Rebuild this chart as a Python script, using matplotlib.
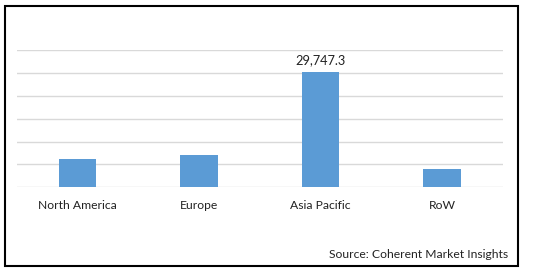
import matplotlib
matplotlib.use('Agg')
import matplotlib.pyplot as plt
from matplotlib.patches import Rectangle
import numpy as np

# market size by region (only Asia Pacific is labelled)
regions = ['North America', 'Europe', 'Asia Pacific', 'RoW']
values = [7300, 8300, 29747.3, 4700]
grid_step = 5900

plt.rcParams['font.family'] = ['Lato', 'DejaVu Sans']

fig = plt.figure(figsize=(5.35, 2.72), dpi=100)
ax = fig.add_axes([0.0312, 0.3114, 0.909, 0.5037])

x = np.arange(len(regions))
ax.bar(x, values, width=0.31, color='#5B9BD5', zorder=3)

ax.set_xlim(-0.5, len(regions) - 0.5)
ax.set_ylim(0, grid_step * 6)
ax.set_yticks(np.arange(0, grid_step * 7, grid_step))
ax.yaxis.grid(True, color='#d9d9d9', linewidth=1.0, zorder=0)
ax.tick_params(axis='y', left=False, labelleft=False)
ax.tick_params(axis='x', length=0, pad=9, labelsize=8.7, colors='#222222')
ax.set_xticks(x)
ax.set_xticklabels(regions)
for s in ax.spines.values():
    s.set_visible(False)

i = regions.index('Asia Pacific')
ax.annotate('{:,.1f}'.format(values[i]), (x[i], values[i]), xytext=(0, 4),
            textcoords='offset points', ha='center', va='bottom',
            fontsize=9.2, color='#222222')

fig.text(508 / 535, 1 - 254 / 272, 'Source: Coherent Market Insights',
         ha='right', va='center', fontsize=8.7, color='#222222')

fig.add_artist(Rectangle((5 / 535, 6 / 272), 513 / 535, 260 / 272,
                         transform=fig.transFigure, fill=False,
                         edgecolor='black', linewidth=1.5))

fig.savefig('out.png', dpi=100)
